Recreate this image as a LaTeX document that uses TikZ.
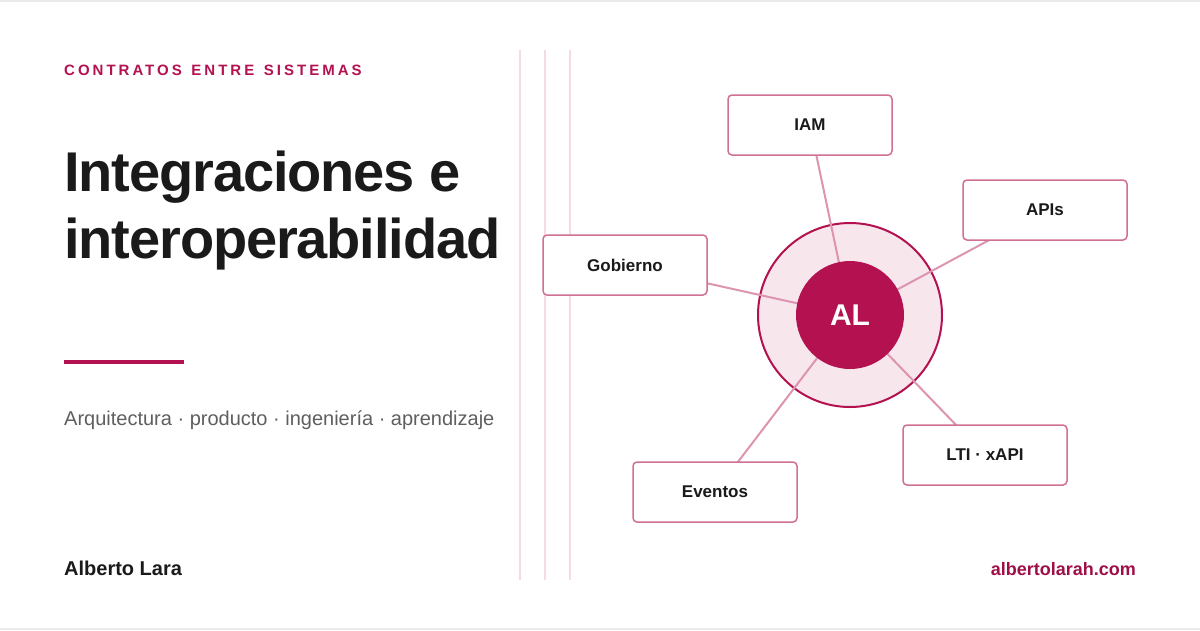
\documentclass[tikz,border=0pt]{standalone}
\usepackage{fontspec}
\setmainfont{Liberation Sans}
\newfontfamily\trackfont[LetterSpace=20]{Liberation Sans}
\newfontfamily\titlefont[LetterSpace=-2]{Liberation Sans}
\definecolor{accent}{HTML}{B3114F}
\definecolor{linkc}{HTML}{9E0F48}
\definecolor{ink}{HTML}{1A1A1A}
\definecolor{muted}{HTML}{5F5F5F}
\definecolor{border}{HTML}{EBEBEB}
\pgfdeclarelayer{back}
\pgfdeclarelayer{mid}
\pgfsetlayers{back,mid,main}
\tikzset{
  sysbox/.style={draw=accent!60, line width=1.5pt, fill=white, rounded corners=4pt,
    minimum width=164pt, minimum height=60pt, inner sep=0pt,
    font=\bfseries\fontsize{17}{20}\selectfont, text=ink},
  link/.style={draw=accent!45, line width=2pt},
  vline/.style={draw=accent!15, line width=2pt},
}
\begin{document}
\begin{tikzpicture}[x=1pt,y=-1pt]
\begin{pgfonlayer}{back}
\useasboundingbox (0,0) rectangle (1200,630);
\fill[white] (0,0) rectangle (1200,630);
\fill[border] (0,0) rectangle (1200,2);
\fill[border] (0,628) rectangle (1200,630);
\end{pgfonlayer}
% left column
\node[anchor=base west, inner sep=0pt, text=accent, font=\trackfont\bfseries\fontsize{15}{18}\selectfont] (kicker) at (64,75.5) {CONTRATOS\hspace{2.5pt} ENTRE\hspace{2.5pt} SISTEMAS};
\node[anchor=base west, inner sep=0pt, text=ink, align=left, font=\titlefont\bfseries\fontsize{56}{67}\selectfont] (title) at (64,258) {Integraciones e\\interoperabilidad};
\fill[accent] (64,360) rectangle (184,364);
\node[anchor=base west, inner sep=0pt, text=muted, font=\fontsize{20}{24}\selectfont] (sub) at (64,425) {Arquitectura · producto · ingeniería · aprendizaje};
\node[anchor=base west, inner sep=0pt, text=ink, font=\bfseries\fontsize{20}{24}\selectfont] (author) at (64,575) {Alberto Lara};
\node[anchor=base east, inner sep=0pt, text=linkc, font=\bfseries\fontsize{18}{22}\selectfont] (site) at (1136,575) {albertolarah.com};
% vertical lines
\coordinate (v1t) at (520,50); \coordinate (v1b) at (520,580);
\coordinate (v2t) at (545,50); \coordinate (v2b) at (545,580);
\coordinate (v3t) at (570,50); \coordinate (v3b) at (570,580);
\draw[vline] (v1t) -- (v1b);
\draw[vline] (v2t) -- (v2b);
\draw[vline] (v3t) -- (v3b);
% hub
\coordinate (hub) at (850,315);
\begin{pgfonlayer}{back}
\node[circle, draw=accent, line width=2pt, fill=accent!10, minimum size=184pt, inner sep=0pt] (outer) at (hub) {};
\end{pgfonlayer}
\node[sysbox] (iam) at (810,125) {IAM};
\node[sysbox] (apis) at (1045,210) {APIs};
\node[sysbox] (gob) at (625,265) {Gobierno};
\node[sysbox] (lti) at (985,455) {LTI · xAPI};
\node[sysbox] (ev) at (715,492) {Eventos};
\begin{pgfonlayer}{mid}
\draw[link] (iam.center) -- (hub);
\draw[link] (apis.center) -- (hub);
\draw[link] (gob.center) -- (hub);
\draw[link] (lti.center) -- (hub);
\draw[link] (ev.center) -- (hub);
\end{pgfonlayer}
\node[circle, fill=accent, minimum size=108pt, inner sep=0pt] (inner) at (hub) {};
\node[anchor=base, inner sep=0pt, text=white, font=\bfseries\fontsize{30}{36}\selectfont] (al) at (850,325) {AL};
\end{tikzpicture}
\end{document}
